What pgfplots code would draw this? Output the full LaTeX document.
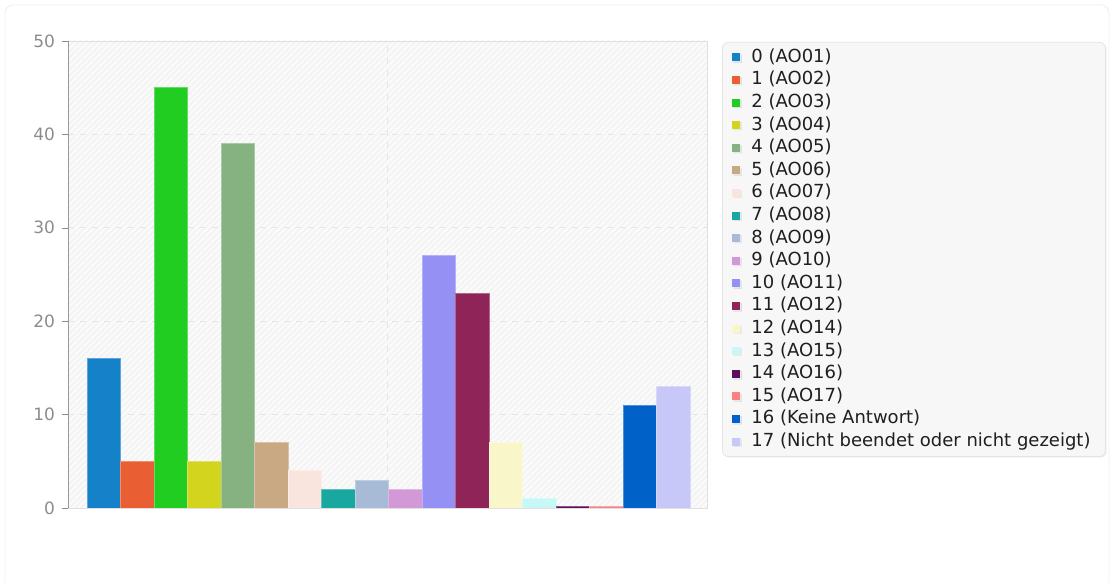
\documentclass[border=0pt]{standalone}
\usepackage{pgfplots}
\pgfplotsset{compat=1.18}
\usepackage{fontspec}
\setmainfont{DejaVu Sans}
\usetikzlibrary{patterns,shadows}
\definecolor{c0}{HTML}{1581C9}
\definecolor{c1}{HTML}{E95F33}
\definecolor{c2}{HTML}{21CD21}
\definecolor{c3}{HTML}{D3D41E}
\definecolor{c4}{HTML}{86B282}
\definecolor{c5}{HTML}{C8A984}
\definecolor{c6}{HTML}{FAE5DE}
\definecolor{c7}{HTML}{19A89F}
\definecolor{c8}{HTML}{A7BBD6}
\definecolor{c9}{HTML}{D398D6}
\definecolor{c10}{HTML}{9591F4}
\definecolor{c11}{HTML}{8F2458}
\definecolor{c12}{HTML}{F9F7CA}
\definecolor{c13}{HTML}{C7F8F7}
\definecolor{c14}{HTML}{5A0F5E}
\definecolor{c15}{HTML}{F98181}
\definecolor{c16}{HTML}{0062C9}
\definecolor{c17}{HTML}{C8C8F8}
\begin{document}
\begin{tikzpicture}
\path[use as bounding box] (0,0) rectangle (557pt,291.5pt);
\draw[color=black!7, rounded corners=4pt] (2.5pt,-5pt) -- (2.5pt,289pt) -- (554.5pt,289pt) -- (554.5pt,-5pt);
\begin{axis}[
  at={(34pt,37.5pt)}, anchor=south west,
  width=319.5pt, height=233.5pt, scale only axis,
  xmin=-1.07, xmax=18, ymin=0, ymax=50,
  ytick={0,10,...,50}, xtick={8.47}, xticklabels={},
  grid=major, major grid style={dashed, color=black!10},
  axis line style={black!12},
  tick align=outside, tick pos=left, major tick length=3pt,
  y tick style={black!45},
  x tick style={draw=none},
  /pgf/number format/assume math mode=true,
  yticklabel style={text=black!45, font=\fontsize{8.5}{10}\selectfont},
  axis background/.style={preaction={fill=black!2}, pattern=north east lines, pattern color=black!6},
  legend cell align=left,
  legend image code/.code={\fill[#1,draw=none,sharp corners] (0pt,-2pt) rectangle (4pt,2pt);},
  legend style={at={(1.0235,0.998)}, anchor=north west, draw=black!10, fill=black!3,
    rounded corners=3pt, font=\fontsize{9}{11}\selectfont, text=black!88,
    drop shadow={opacity=0.12, shadow xshift=0.6pt, shadow yshift=-0.6pt},
    inner xsep=5pt, inner ysep=3pt, row sep=2.3pt,
    nodes={inner xsep=2.5pt, inner ysep=0pt, text height=7pt, text depth=2pt},
    /tikz/every odd column/.append style={column sep=3pt}},
  every axis plot/.style={ybar, bar width=1, bar shift=0pt, line width=0.4pt},
]
\addplot[fill=c0, draw=c0!70!white] coordinates {(0,16)};
\addlegendentry{0 (AO01)}
\addplot[fill=c1, draw=c1!70!white] coordinates {(1,5)};
\addlegendentry{1 (AO02)}
\addplot[fill=c2, draw=c2!70!white] coordinates {(2,45)};
\addlegendentry{2 (AO03)}
\addplot[fill=c3, draw=c3!70!white] coordinates {(3,5)};
\addlegendentry{3 (AO04)}
\addplot[fill=c4, draw=c4!70!white] coordinates {(4,39)};
\addlegendentry{4 (AO05)}
\addplot[fill=c5, draw=c5!70!white] coordinates {(5,7)};
\addlegendentry{5 (AO06)}
\addplot[fill=c6, draw=c6!70!white] coordinates {(6,4)};
\addlegendentry{6 (AO07)}
\addplot[fill=c7, draw=c7!70!white] coordinates {(7,2)};
\addlegendentry{7 (AO08)}
\addplot[fill=c8, draw=c8!70!white] coordinates {(8,3)};
\addlegendentry{8 (AO09)}
\addplot[fill=c9, draw=c9!70!white] coordinates {(9,2)};
\addlegendentry{9 (AO10)}
\addplot[fill=c10, draw=c10!70!white] coordinates {(10,27)};
\addlegendentry{10 (AO11)}
\addplot[fill=c11, draw=c11!70!white] coordinates {(11,23)};
\addlegendentry{11 (AO12)}
\addplot[fill=c12, draw=c12!70!white] coordinates {(12,7)};
\addlegendentry{12 (AO14)}
\addplot[fill=c13, draw=c13!70!white] coordinates {(13,1)};
\addlegendentry{13 (AO15)}
\addplot[fill=c14, draw=c14!70!white] coordinates {(14,0.2)};
\addlegendentry{14 (AO16)}
\addplot[fill=c15, draw=c15!70!white] coordinates {(15,0.2)};
\addlegendentry{15 (AO17)}
\addplot[fill=c16, draw=c16!70!white] coordinates {(16,11)};
\addlegendentry{16 (Keine Antwort)}
\addplot[fill=c17, draw=c17!70!white] coordinates {(17,13)};
\addlegendentry{17 (Nicht beendet oder nicht gezeigt)}
\draw[black!40] (rel axis cs:0,1) -- (rel axis cs:0,0) -- (rel axis cs:1,0);
\end{axis}
\end{tikzpicture}
\end{document}
